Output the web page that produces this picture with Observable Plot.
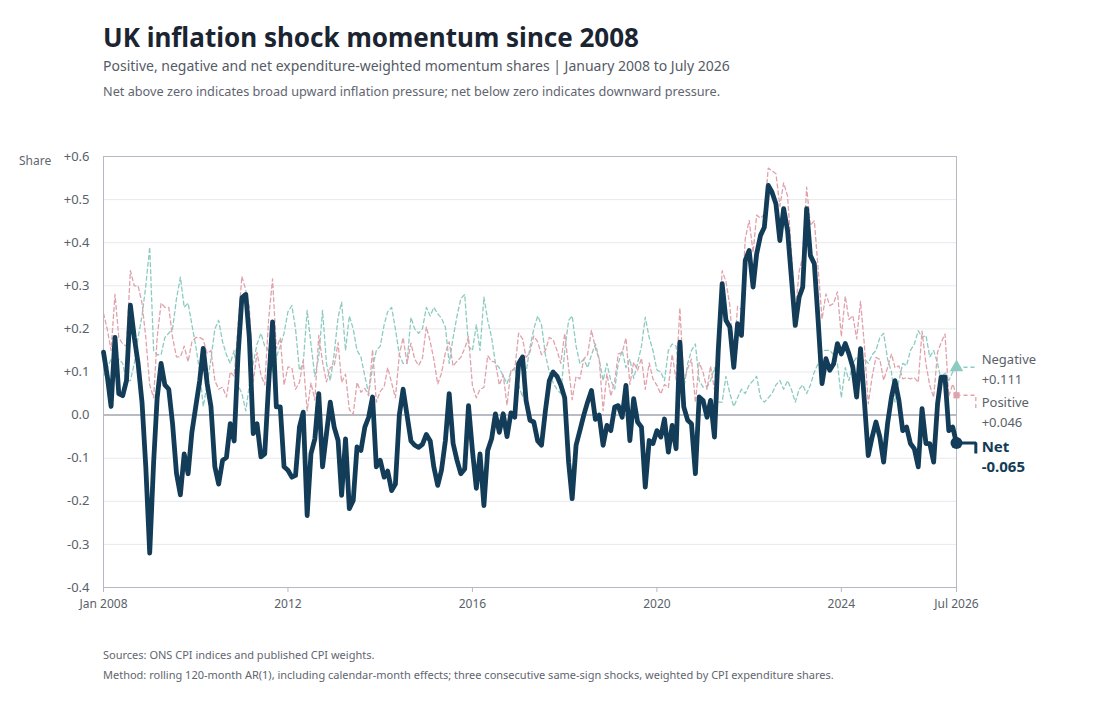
<!DOCTYPE html>
<html><head><meta charset="utf-8">
<script src="https://cdn.jsdelivr.net/npm/d3@7"></script>
<script src="https://cdn.jsdelivr.net/npm/@observablehq/plot@0.6"></script>
<style>
body{margin:0;background:#fff;font-family:"Noto Sans",sans-serif;}
#wrap{position:relative;width:1102px;height:707px;overflow:hidden;}
.t{position:absolute;left:103px;white-space:nowrap;line-height:1;}
#title{top:23.5px;font-size:26px;font-weight:700;color:#1b2431;}
#sub{top:59.3px;font-size:14px;color:#555b66;}
#note{top:84.7px;font-size:12.7px;color:#5f6570;}
#share{position:absolute;left:19px;top:155px;font-size:12px;color:#5f6570;line-height:1;}
#src{top:649px;font-size:11px;color:#5f6570;}
#method{top:669px;font-size:11px;color:#5f6570;}
#chart{position:absolute;left:0;top:0;}
</style></head><body>
<div id="wrap">
<div class="t" id="title">UK inflation shock momentum since 2008</div>
<div class="t" id="sub">Positive, negative and net expenditure-weighted momentum shares | January 2008 to July 2026</div>
<div class="t" id="note">Net above zero indicates broad upward inflation pressure; net below zero indicates downward pressure.</div>
<div id="chart"></div>
<div id="share">Share</div>
<div class="t" id="src">Sources: ONS CPI indices and published CPI weights.</div>
<div class="t" id="method">Method: rolling 120-month AR(1), including calendar-month effects; three consecutive same-sign shocks, weighted by CPI expenditure shares.</div>
</div>
<script>
const startYear = 2008, startMonthIndex = 0;

const net = [
0.146,0.088,0.020,0.180,0.050,0.045,0.080,0.255,0.180,0.120,
0.030,-0.120,-0.320,-0.110,0.040,0.120,0.070,0.060,-0.020,-0.135,
-0.185,-0.090,-0.136,-0.040,0.020,0.080,0.155,0.073,0.020,-0.120,
-0.160,-0.105,-0.098,-0.020,-0.060,0.135,0.272,0.280,0.180,-0.043,
-0.020,-0.097,-0.090,0.073,0.216,0.019,0.019,-0.120,-0.128,-0.144,
-0.140,-0.028,0.007,-0.233,-0.090,-0.055,0.050,-0.120,-0.043,0.030,
-0.028,-0.059,-0.186,-0.055,-0.217,-0.198,-0.074,-0.082,-0.028,-0.005,
0.042,-0.120,-0.105,-0.144,-0.130,-0.175,-0.160,0.000,0.060,0.000,
-0.060,-0.070,-0.075,-0.068,-0.045,-0.060,-0.120,-0.163,-0.128,-0.059,
0.050,-0.066,-0.105,-0.136,-0.125,0.022,-0.082,-0.170,-0.090,-0.210,
-0.082,-0.055,0.003,-0.040,0.003,-0.050,0.005,-0.005,0.120,0.135,
0.034,-0.012,-0.016,-0.060,-0.070,0.010,0.080,0.100,0.090,0.070,
0.040,-0.110,-0.194,-0.070,-0.036,0.000,0.030,0.057,-0.010,0.000,
-0.070,-0.024,-0.036,0.019,0.022,-0.005,0.069,-0.059,0.038,-0.016,
-0.028,-0.167,-0.059,-0.066,-0.036,-0.051,-0.009,-0.086,-0.024,-0.078,
0.169,0.019,-0.012,-0.020,-0.136,0.042,0.034,-0.005,0.034,-0.051,
0.150,0.305,0.220,0.204,0.111,0.212,0.185,0.359,0.382,0.297,
0.374,0.417,0.436,0.533,0.517,0.490,0.405,0.479,0.428,0.320,
0.208,0.274,0.297,0.479,0.370,0.351,0.220,0.073,0.131,0.104,
0.119,0.166,0.142,0.166,0.142,0.111,0.042,0.154,0.034,-0.094,
-0.051,-0.016,-0.051,-0.109,-0.020,0.042,0.080,0.034,-0.036,-0.028,
-0.066,-0.078,-0.120,0.015,-0.066,-0.066,-0.109,0.026,0.088,0.088,
-0.036,-0.028,-0.065
];

const negative = [
0.090,0.110,0.130,0.100,0.130,0.120,0.080,0.080,0.120,0.180,
0.230,0.300,0.390,0.150,0.140,0.140,0.180,0.190,0.200,0.270,
0.320,0.250,0.260,0.210,0.160,0.100,0.020,0.070,0.130,0.200,
0.220,0.170,0.140,0.120,0.150,0.070,0.050,0.010,0.070,0.120,
0.165,0.190,0.160,0.150,0.100,0.135,0.160,0.190,0.240,0.254,
0.200,0.104,0.120,0.243,0.165,0.090,0.135,0.243,0.120,0.080,
0.142,0.227,0.262,0.150,0.230,0.200,0.150,0.135,0.090,0.050,
0.110,0.150,0.160,0.210,0.240,0.250,0.200,0.140,0.120,0.120,
0.227,0.200,0.190,0.200,0.250,0.230,0.250,0.235,0.225,0.204,
0.120,0.180,0.230,0.270,0.280,0.160,0.150,0.210,0.150,0.274,
0.220,0.180,0.120,0.110,0.090,0.073,0.100,0.110,0.070,0.042,
0.100,0.158,0.200,0.230,0.210,0.140,0.100,0.075,0.060,0.050,
0.150,0.220,0.230,0.160,0.120,0.130,0.110,0.140,0.165,0.130,
0.080,0.120,0.080,0.060,0.120,0.150,0.110,0.130,0.085,0.120,
0.160,0.227,0.180,0.150,0.105,0.100,0.080,0.150,0.165,0.160,
0.080,0.060,0.120,0.150,0.165,0.080,0.065,0.065,0.080,0.110,
0.030,0.030,0.090,0.050,0.020,0.040,0.060,0.050,0.070,0.080,
0.090,0.040,0.030,0.040,0.050,0.070,0.080,0.060,0.080,0.060,
0.030,0.060,0.070,0.050,0.070,0.100,0.120,0.150,0.150,0.150,
0.140,0.120,0.040,0.110,0.080,0.120,0.135,0.110,0.130,0.120,
0.140,0.150,0.180,0.190,0.130,0.100,0.030,0.080,0.120,0.115,
0.150,0.165,0.196,0.180,0.185,0.135,0.150,0.120,0.080,0.100,
0.080,0.100,0.111
];

const positive = [
0.236,0.198,0.150,0.280,0.180,0.165,0.160,0.335,0.300,0.300,
0.260,0.180,0.070,0.040,0.180,0.260,0.250,0.250,0.180,0.135,
0.135,0.160,0.124,0.170,0.180,0.180,0.175,0.143,0.150,0.080,
0.060,0.065,0.042,0.100,0.090,0.205,0.322,0.290,0.250,0.077,
0.145,0.093,0.070,0.223,0.316,0.154,0.179,0.070,0.112,0.110,
0.060,0.076,0.127,0.010,0.075,0.035,0.185,0.123,0.077,0.110,
0.114,0.168,0.076,0.095,0.013,0.002,0.076,0.053,0.062,0.045,
0.152,0.030,0.055,0.066,0.110,0.075,0.040,0.140,0.180,0.120,
0.167,0.130,0.115,0.132,0.205,0.170,0.130,0.072,0.097,0.145,
0.170,0.114,0.125,0.134,0.155,0.182,0.068,0.040,0.060,0.064,
0.138,0.125,0.123,0.070,0.093,0.023,0.105,0.105,0.190,0.177,
0.134,0.146,0.184,0.170,0.140,0.150,0.180,0.175,0.150,0.120,
0.190,0.110,0.036,0.090,0.084,0.130,0.140,0.197,0.155,0.130,
0.010,0.096,0.044,0.079,0.142,0.145,0.179,0.071,0.123,0.104,
0.132,0.060,0.121,0.084,0.069,0.049,0.071,0.064,0.141,0.082,
0.249,0.079,0.108,0.130,0.029,0.122,0.099,0.060,0.114,0.059,
0.180,0.335,0.310,0.254,0.131,0.252,0.245,0.409,0.452,0.377,
0.464,0.457,0.466,0.573,0.567,0.560,0.485,0.539,0.508,0.380,
0.238,0.334,0.367,0.529,0.440,0.451,0.340,0.223,0.281,0.254,
0.259,0.286,0.182,0.276,0.222,0.231,0.177,0.264,0.164,0.026,
0.089,0.134,0.129,0.081,0.110,0.142,0.110,0.114,0.084,0.087,
0.084,0.087,0.076,0.195,0.119,0.069,0.041,0.146,0.168,0.188,
0.044,0.072,0.046
];

const yTicks = [-0.4,-0.3,-0.2,-0.1,0,0.1,0.2,0.3,0.4,0.5,0.6];
const xTickMonths = ["2008-01","2012-01","2016-01","2020-01","2024-01","2026-07"];
const xTickLabels = ["Jan 2008","2012","2016","2020","2024","Jul 2026"];
const seriesNames = ["Negative","Positive","Net"];

const navy = "#123c57", teal = "#8ccbc1", pink = "#e0a2ac";

const start = new Date(Date.UTC(startYear, startMonthIndex, 1));
const dates = net.map((_, i) => d3.utcMonth.offset(start, i));
const rows = dates.map((d, i) => ({date: d, net: net[i], neg: negative[i], pos: positive[i]}));
const last = rows[rows.length - 1];
const endDate = last.date;
const leadDate = d3.utcMonth.offset(endDate, 5);
const textDate = d3.utcMonth.offset(endDate, 7);

const xTickDates = xTickMonths.map(s => new Date(s + "-01T00:00:00Z"));
const xLabelMap = new Map(xTickDates.map((d, i) => [+d, xTickLabels[i]]));
const fmtY = v => Math.abs(v) < 1e-9 ? "0.0" : (v > 0 ? "+" : "") + v.toFixed(1);
const fmt3 = v => (v > 0 ? "+" : "") + v.toFixed(3);

const ends = [
  {name: seriesNames[0], value: last.neg},
  {name: seriesNames[1], value: last.pos},
  {name: seriesNames[2], value: last.net}
];
const order = ends.slice().sort((a, b) => b.value - a.value);
let prev = Infinity;
for (const e of order) { e.labelY = Math.min(e.value, prev - 0.1); prev = e.labelY; }
ends.forEach(e => { e.date = endDate; e.lead = leadDate; e.tdate = textDate; e.text = e.name + "\n" + fmt3(e.value); });
const endNeg = [ends[0]], endPos = [ends[1]], endNet = [ends[2]];

const chart = Plot.plot({
  width: 1102, height: 640,
  marginLeft: 103, marginRight: 146, marginTop: 156, marginBottom: 53,
  style: {fontFamily: "Noto Sans", fontSize: "13px", color: "#5a5f69", background: "transparent", overflow: "visible"},
  x: {type: "utc", domain: [dates[0], endDate]},
  y: {domain: [-0.4, 0.6]},
  marks: [
    Plot.gridY(yTicks, {stroke: "#e8e9ed", strokeOpacity: 1, strokeWidth: 1}),
    Plot.ruleY([0], {stroke: "#a4a8b1", strokeWidth: 1.5}),
    Plot.frame({stroke: "#b6b9c1", strokeWidth: 1}),
    Plot.axisY(yTicks, {tickSize: 0, tickPadding: 14, tickFormat: fmtY, label: null, fontSize: 13, fill: "#5a5f69"}),
    Plot.axisX(xTickDates, {tickSize: 5, tickPadding: 7, tickFormat: d => xLabelMap.get(+d), label: null, fontSize: 12, stroke: "#b6b9c1", fill: "#5a5f69"}),
    Plot.line(rows, {x: "date", y: "neg", stroke: teal, strokeWidth: 1.3, strokeDasharray: "4,3"}),
    Plot.line(rows, {x: "date", y: "pos", stroke: pink, strokeWidth: 1.3, strokeDasharray: "4,3"}),
    Plot.line(rows, {x: "date", y: "net", stroke: navy, strokeWidth: 4.8, strokeLinejoin: "round", strokeLinecap: "round"}),
    Plot.link(endNeg, {x1: "date", y1: "value", x2: "lead", y2: "labelY", curve: "step-after", stroke: teal, strokeWidth: 1.3, strokeDasharray: "4,3"}),
    Plot.link(endPos, {x1: "date", y1: "value", x2: "lead", y2: "labelY", curve: "step-after", stroke: pink, strokeWidth: 1.3, strokeDasharray: "4,3"}),
    Plot.link(endNet, {x1: "date", y1: "value", x2: "lead", y2: "labelY", curve: "step-after", stroke: navy, strokeWidth: 3}),
    Plot.dot(endNeg, {x: "date", y: "value", symbol: "triangle", r: 5, fill: teal}),
    Plot.dot(endPos, {x: "date", y: "value", symbol: "square", r: 3.5, fill: pink}),
    Plot.dot(endNet, {x: "date", y: "value", symbol: "circle", r: 6, fill: navy}),
    Plot.text(endNeg, {x: "tdate", y: "labelY", text: "text", textAnchor: "start", lineAnchor: "middle", lineHeight: 1.55, fontSize: 13, fill: "#5a5f69", dx: -2}),
    Plot.text(endPos, {x: "tdate", y: "labelY", text: "text", textAnchor: "start", lineAnchor: "middle", lineHeight: 1.55, fontSize: 13, fill: "#5a5f69", dx: -2}),
    Plot.text(endNet, {x: "tdate", y: "labelY", text: "text", textAnchor: "start", lineAnchor: "middle", lineHeight: 1.35, fontSize: 15, fontWeight: 700, fill: navy, dx: -2, dy: 2})
  ]
});
document.getElementById("chart").appendChild(chart);
</script>
</body></html>
